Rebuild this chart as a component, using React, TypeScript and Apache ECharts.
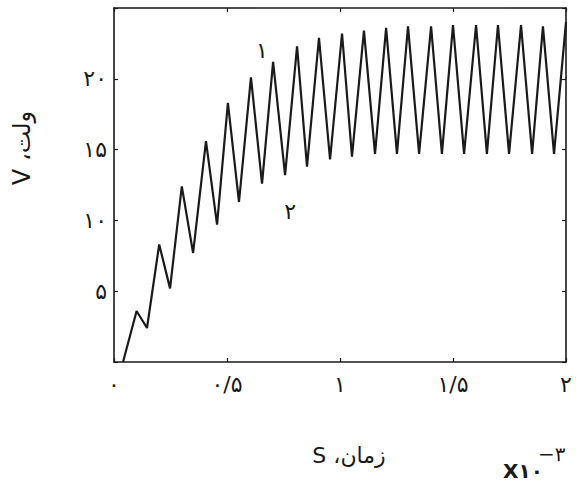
import React, { useEffect, useRef } from 'react';
import * as echarts from 'echarts';

// time (×10^-3 s) and voltage (V)
const timeValues = [
  0.04, 0.10, 0.146, 0.20, 0.248, 0.30, 0.35, 0.407, 0.456, 0.504,
  0.553, 0.606, 0.655, 0.704, 0.757, 0.81, 0.854, 0.907, 0.956, 1.009,
  1.053, 1.106, 1.155, 1.204, 1.252, 1.301, 1.35, 1.403, 1.451, 1.5,
  1.549, 1.602, 1.65, 1.699, 1.748, 1.801, 1.85, 1.898, 1.947, 2.0,
];
const voltValues = [
  0, 3.6, 2.4, 8.3, 5.2, 12.4, 7.7, 15.6, 9.7, 18.3,
  11.3, 20.1, 12.6, 21.2, 13.2, 22.3, 13.8, 22.9, 14.3, 23.2,
  14.5, 23.4, 14.7, 23.6, 14.7, 23.7, 14.7, 23.7, 14.7, 23.8,
  14.7, 23.8, 14.7, 23.8, 14.7, 23.8, 14.7, 23.7, 14.7, 24.0,
];

const xTickValues = [0, 0.5, 1, 1.5, 2];
const xTickLabels = ['۰', '۰/۵', '۱', '۱/۵', '۲'];
const yTickValues = [5, 10, 15, 20];
const yTickLabels = ['۵', '۱۰', '۱۵', '۲۰'];

const curveLabelTexts = ['۱', '۲'];
const curveLabelTimes = [0.655, 0.78];
const curveLabelVolts = [22.0, 10.6];

const yAxisTitle = 'V ،ولت';
const xAxisTitle = 'S ،زمان';
const scaleBase = 'X۱۰';
const scaleExp = '−۳';

const FONT = 'DejaVu Sans';
const INK = '#1a1a1a';

export default function App() {
  const ref = useRef<HTMLDivElement>(null);

  useEffect(() => {
    document.body.style.margin = '0';
    if (!ref.current) return;
    const chart = echarts.init(ref.current, undefined, { renderer: 'svg' });

    const lineData = timeValues.map((t, i) => [t, voltValues[i]]);
    const labelData = curveLabelTexts.map((txt, i) => ({
      value: [curveLabelTimes[i], curveLabelVolts[i]],
      name: txt,
    }));

    const mkLine = () => ({ show: true, onZero: false, lineStyle: { color: INK, width: 1.6 } });
    const mkTick = () => ({ show: true, inside: true, length: 4, lineStyle: { color: INK, width: 1.2 } });

    chart.setOption({
      animation: false,
      backgroundColor: '#ffffff',
      grid: { left: 114, right: 12, top: 8, bottom: 142, containLabel: false },
      xAxis: [
        {
          type: 'value',
          min: 0,
          max: 2,
          interval: 0.5,
          position: 'bottom',
          axisLine: mkLine(),
          axisTick: mkTick(),
          splitLine: { show: false },
          axisLabel: {
            margin: 11,
            fontFamily: FONT,
            fontSize: 22,
            color: INK,
            formatter: (v: number) => {
              const i = xTickValues.findIndex((x) => Math.abs(x - v) < 1e-9);
              return i >= 0 ? xTickLabels[i] : '';
            },
          },
        },
        {
          type: 'value',
          min: 0,
          max: 2,
          interval: 0.5,
          position: 'top',
          axisLine: mkLine(),
          axisTick: mkTick(),
          splitLine: { show: false },
          axisLabel: { show: false },
        },
      ],
      yAxis: [
        {
          type: 'value',
          min: 0,
          max: 25,
          interval: 5,
          position: 'left',
          axisLine: mkLine(),
          axisTick: mkTick(),
          splitLine: { show: false },
          axisLabel: {
            margin: 7,
            fontFamily: FONT,
            fontSize: 22,
            color: INK,
            formatter: (v: number) => {
              const i = yTickValues.indexOf(v);
              return i >= 0 ? yTickLabels[i] : '';
            },
          },
        },
        {
          type: 'value',
          min: 0,
          max: 25,
          interval: 5,
          position: 'right',
          axisLine: mkLine(),
          axisTick: mkTick(),
          splitLine: { show: false },
          axisLabel: { show: false },
        },
      ],
      series: [
        {
          type: 'line',
          data: lineData,
          showSymbol: false,
          symbol: 'none',
          lineStyle: { color: INK, width: 2.2 },
          clip: true,
        },
        {
          type: 'scatter',
          data: labelData,
          symbolSize: 0,
          itemStyle: { color: INK, opacity: 1 },
          label: {
            show: true,
            position: 'inside',
            formatter: (p: any) => p.name,
            fontFamily: FONT,
            fontSize: 22,
            color: INK,
            opacity: 1,
            textBorderWidth: 0,
          },
        },
      ],
      graphic: [
        {
          type: 'text',
          x: 22,
          y: 148,
          rotation: Math.PI / 2,
          style: {
            text: yAxisTitle,
            font: `24px "${FONT}"`,
            fill: INK,
            align: 'center',
            verticalAlign: 'middle',
          },
        },
        {
          type: 'text',
          x: 349,
          y: 455,
          style: {
            text: xAxisTitle,
            font: `22px "${FONT}"`,
            fill: INK,
            align: 'center',
            verticalAlign: 'middle',
          },
        },
        {
          type: 'text',
          x: 503,
          y: 471,
          style: {
            text: scaleBase,
            font: `bold 20px "${FONT}"`,
            fill: INK,
            align: 'left',
            verticalAlign: 'middle',
          },
        },
        {
          type: 'text',
          x: 538,
          y: 454,
          style: {
            text: scaleExp,
            font: `20px "${FONT}"`,
            fill: INK,
            align: 'left',
            verticalAlign: 'middle',
          },
        },
      ],
    });

    return () => chart.dispose();
  }, []);

  return <div ref={ref} style={{ width: 578, height: 504 }} />;
}
